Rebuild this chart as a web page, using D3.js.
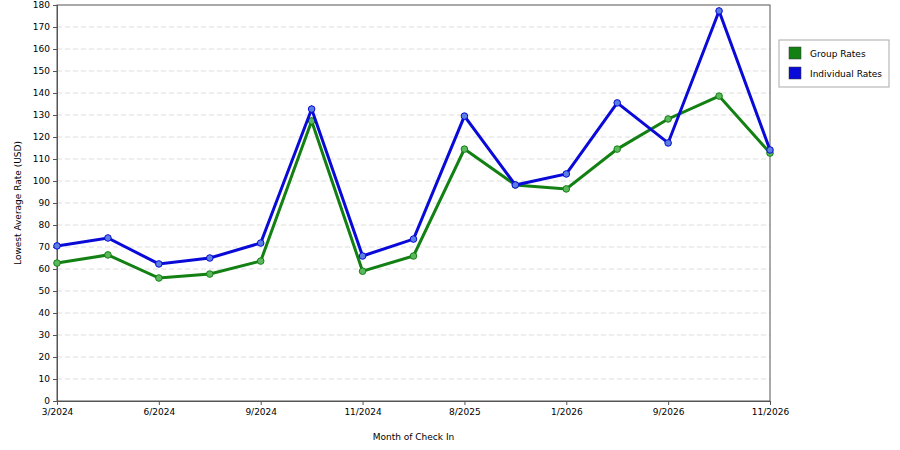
<!DOCTYPE html><html><head><script src="https://cdn.jsdelivr.net/npm/d3@7"></script>
<style>body{margin:0;background:#fff}text{font-family:"DejaVu Sans",sans-serif;font-size:9px}</style></head><body><svg id="c" width="900" height="450"></svg>
<script>
const months=["3/2024","4/2024","6/2024","7/2024","9/2024","10/2024","11/2024","12/2024","8/2025","9/2025","1/2026","3/2026","9/2026","10/2026","11/2026"];
const tickLabels=["3/2024","6/2024","9/2024","11/2024","8/2025","1/2026","9/2026","11/2026"];
const groupRates=[62.7,66.4,55.9,57.7,63.6,127.3,59,65.9,114.5,98.2,96.4,114.5,128.2,138.6,112.7];
const individualRates=[70.5,74.1,62.3,65,71.8,132.7,65.9,73.6,129.5,98.2,103.2,135.5,117.3,177.3,114.1];
const yTicks=d3.range(0,181,10);
const svg=d3.select("#c");
const L=57,R=770,T=5,B=401;
const x=d3.scalePoint().domain(months).range([L,R]);
const y=d3.scaleLinear().domain([0,180]).range([B,T]);
svg.append("g").selectAll("line").data(yTicks.filter(d=>d>0&&d<180)).join("line")
 .attr("x1",L).attr("x2",R).attr("y1",d=>y(d)).attr("y2",d=>y(d)).attr("stroke","#ddd").attr("stroke-dasharray","5,3");
svg.append("rect").attr("x",L).attr("y",T).attr("width",R-L).attr("height",B-T).attr("fill","none").attr("stroke","#555");
const ya=svg.append("g").attr("transform",`translate(${L},0)`).call(d3.axisLeft(y).tickValues(yTicks).tickSize(4).tickPadding(3));
const xa=svg.append("g").attr("transform",`translate(0,${B})`).call(d3.axisBottom(x).tickValues(tickLabels.map(t=>months[months.indexOf(t)])).tickSize(4).tickPadding(4));
[ya,xa].forEach(a=>{a.select(".domain").attr("stroke","#555");a.selectAll("line").attr("stroke","#555");a.selectAll("text").attr("fill","#000").style("font-family","DejaVu Sans").style("font-size","9px");});
svg.append("text").attr("x",(L+R)/2).attr("y",440).attr("text-anchor","middle").text("Month of Check In");
svg.append("text").attr("transform",`translate(21,${(T+B)/2}) rotate(-90)`).attr("text-anchor","middle").text("Lowest Average Rate (USD)");
const series=[{n:"Group Rates",v:groupRates,c:"#128012",f:"#5cb85c"},{n:"Individual Rates",v:individualRates,c:"#0a0ad8",f:"#5a7fe0"}];
const line=d3.line().x((d,i)=>x(months[i])).y(d=>y(d));
series.forEach(s=>{
 svg.append("path").attr("d",line(s.v)).attr("fill","none").attr("stroke",s.c).attr("stroke-width",3);
 svg.append("g").selectAll("circle").data(s.v).join("circle").attr("cx",(d,i)=>x(months[i])).attr("cy",d=>y(d)).attr("r",3.3).attr("fill",s.f).attr("stroke",s.c).attr("stroke-width",1);
});
const lg=svg.append("g");
lg.append("rect").attr("x",779).attr("y",40).attr("width",110).attr("height",47).attr("fill","#fff").attr("stroke","#aaa");
series.forEach((s,i)=>{
 lg.append("rect").attr("x",789).attr("y",47+i*20).attr("width",12).attr("height",12).attr("fill",s.c).attr("stroke","#333").attr("stroke-width",0.5);
 lg.append("text").attr("x",810).attr("y",57+i*20).text(s.n);
});
</script></body></html>
